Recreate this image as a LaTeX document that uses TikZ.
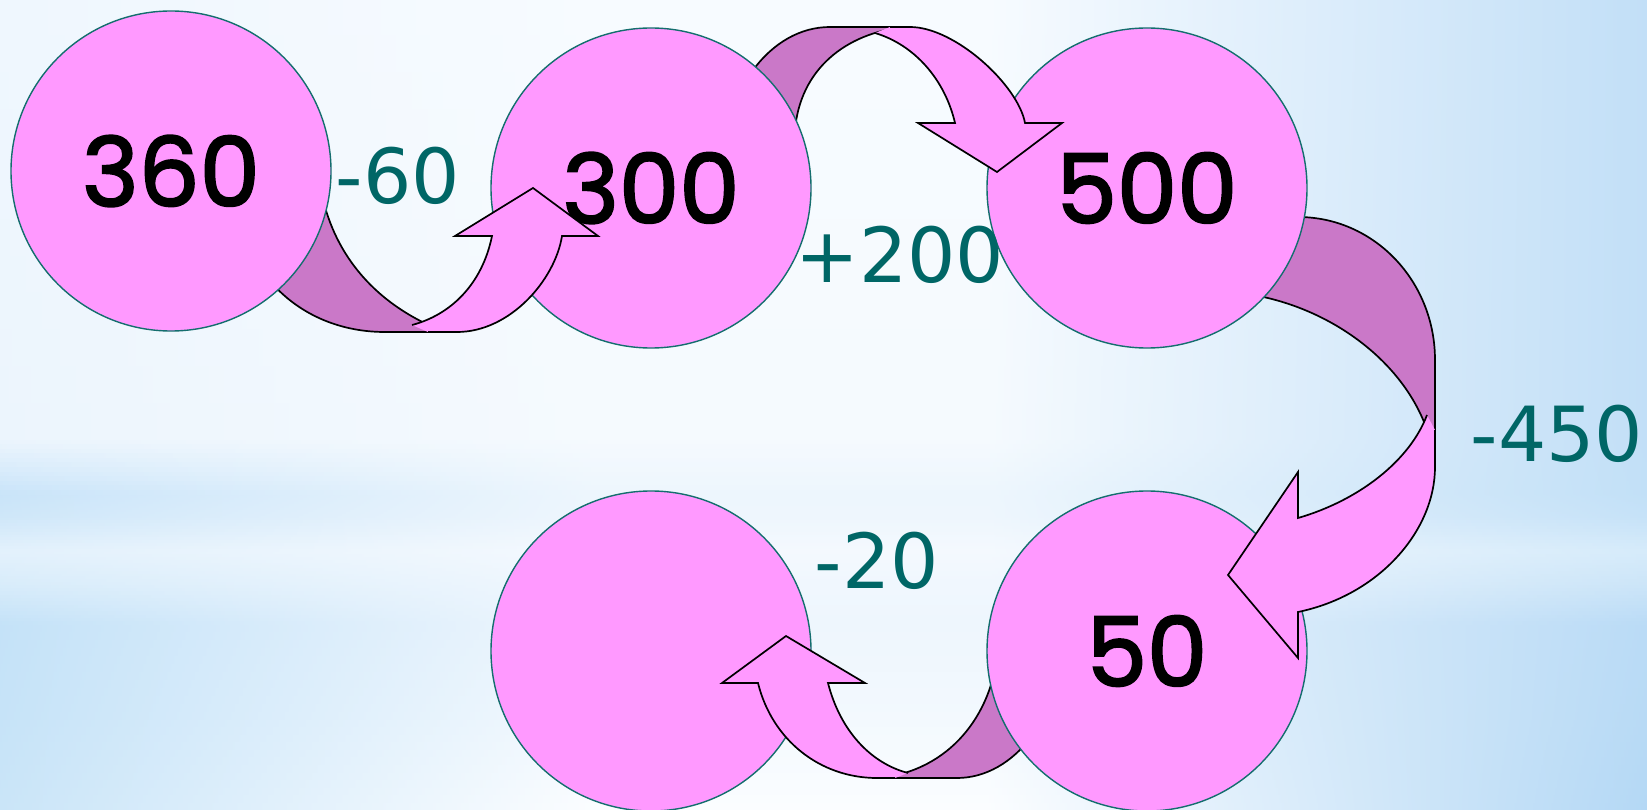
\documentclass[tikz,border=0pt]{standalone}
\usepackage{fontspec}
\setmainfont{DejaVu Sans}
\newfontfamily\numfont{Poppins}[FakeBold=2.2]
\definecolor{pinkc}{RGB}{255,153,255}
\definecolor{darkp}{RGB}{202,120,200}
\definecolor{circedge}{RGB}{20,110,110}
\definecolor{labc}{RGB}{0,102,102}
\colorlet{cL}{white}\colorlet{cM}{white}\colorlet{cR}{white}
\pgfdeclarehorizontalshading[cL,cM,cR]{skystrip}{100bp}{color(0bp)=(cL); color(25bp)=(cL); color(43bp)=(cM); color(55bp)=(cM); color(75bp)=(cR); color(100bp)=(cR)}
% blend between two key rows: y1 y2 LA MA RA LB MB RB (HTML colours)
\newcommand\skyblend[8]{%
  \definecolor{kLA}{HTML}{#3}\definecolor{kMA}{HTML}{#4}\definecolor{kRA}{HTML}{#5}%
  \definecolor{kLB}{HTML}{#6}\definecolor{kMB}{HTML}{#7}\definecolor{kRB}{HTML}{#8}%
  \foreach \kk in {0,...,11}{%
    \pgfmathsetmacro\ya{#1+(#2-#1)*\kk/12}%
    \pgfmathsetmacro\yb{#1+(#2-#1)*(\kk+1)/12+0.6}%
    \pgfmathtruncatemacro\pp{100-(\kk+0.5)*100/12}%
    \colorlet{cL}{kLA!\pp!kLB}\colorlet{cM}{kMA!\pp!kMB}\colorlet{cR}{kRA!\pp!kRB}%
    \shade[shading=skystrip] (-1,\ya) rectangle (1648,\yb);}}
\begin{document}
\begin{tikzpicture}[x=1pt,y=-1pt,
  circ/.style={circle, draw=circedge, line width=1.4pt, fill=pinkc, minimum size=320pt, inner sep=0pt,
    font=\numfont\fontsize{96}{96}\selectfont, text=black},
  backpart/.style={fill=darkp, draw=black, line width=1.7pt, line join=miter},
  frontpart/.style={fill=pinkc, draw=black, line width=1.7pt, line join=miter},
  lab/.style={font=\fontsize{76}{76}\selectfont, text=labc, inner sep=0pt}]
\useasboundingbox (0,0) rectangle (1647,810);
% sky background
\begin{scope}
\clip (0,0) rectangle (1647,810);
\skyblend{-1}{440}{EFF7FE}{F7FBFF}{C2DFF7}{ECF5FD}{F5FAFE}{C2DFF7}
\skyblend{440}{495}{ECF5FD}{F5FAFE}{C2DFF7}{C9E4F9}{EDF6FD}{C2E0F7}
\skyblend{495}{518}{C9E4F9}{EDF6FD}{C2E0F7}{CFE7F9}{EEF6FD}{C6E2F8}
\skyblend{518}{552}{CFE7F9}{EEF6FD}{C6E2F8}{E3F1FC}{F4F9FE}{D6EBFA}
\skyblend{552}{585}{E3F1FC}{F4F9FE}{D6EBFA}{D8ECFA}{F0F7FE}{CCE5F8}
\skyblend{585}{625}{D8ECFA}{F0F7FE}{CCE5F8}{C4E2F8}{EEF6FD}{BADBF6}
\skyblend{625}{720}{C4E2F8}{EEF6FD}{BADBF6}{C6E3F8}{F3F9FE}{B8DAF5}
\skyblend{720}{811}{C6E3F8}{F3F9FE}{B8DAF5}{CAE5F8}{FBFDFF}{B4D8F5}
\end{scope}
% back parts of the curved arrows
\path[backpart] (237,188) .. controls (237,270) and (300,332) .. (385,332) -- (445,332) .. controls (375,305) and (335,255) .. (322,195) -- cycle;
\path[backpart] (722,172) .. controls (722,92) and (770,27) .. (830,27) -- (905,27) .. controls (845,33) and (800,70) .. (795,130) -- (790,172) -- cycle;
\path[backpart] (1290,217) -- (1298,217) .. controls (1374,217) and (1435,281) .. (1435,360) -- (1435,470) .. controls (1430,380) and (1340,305) .. (1240,293) -- cycle;
\path[backpart] (1063,636) .. controls (1063,714) and (1015,778) .. (957,778) -- (880,778) .. controls (950,770) and (992,715) .. (998,650) -- cycle;
% circles
\node[circ] (c1) at (171,171) {360};
\node[circ] (c2) at (651,188) {300};
\node[circ] (c3) at (1147,188) {500};
\node[circ] (c4) at (651,651) {};
\node[circ] (c5) at (1147,651) {50};
% front parts of the curved arrows
\path[frontpart] (428,332) -- (457,332) .. controls (510,332) and (555,280) .. (562,236) -- (598,236) -- (533,188) -- (455,236) -- (492,236) .. controls (482,285) and (450,315) .. (412,325);
\path[frontpart] (890,27) -- (910,27) .. controls (955,27) and (1018,85) .. (1025,123) -- (1062,123) -- (997,172) -- (918,123) -- (955,123) .. controls (945,80) and (915,45) .. (875,33);
\path[frontpart] (1435,430) -- (1435,467) .. controls (1435,530) and (1380,595) .. (1298,612) -- (1298,658) -- (1228,575) -- (1298,472) -- (1298,518) .. controls (1360,500) and (1410,460) .. (1427,415);
\path[frontpart] (895,778) -- (877,778) .. controls (820,778) and (772,740) .. (758,683) -- (722,683) -- (786,636) -- (865,683) -- (828,683) .. controls (840,730) and (870,763) .. (908,773);
% labels
\node[lab] (l1) at (398,176) {-60};
\node[lab] (l2) at (900,255) {+200};
\node[lab] (l3) at (1557,434) {-450};
\node[lab] (l4) at (877,561) {-20};
\end{tikzpicture}
\end{document}
